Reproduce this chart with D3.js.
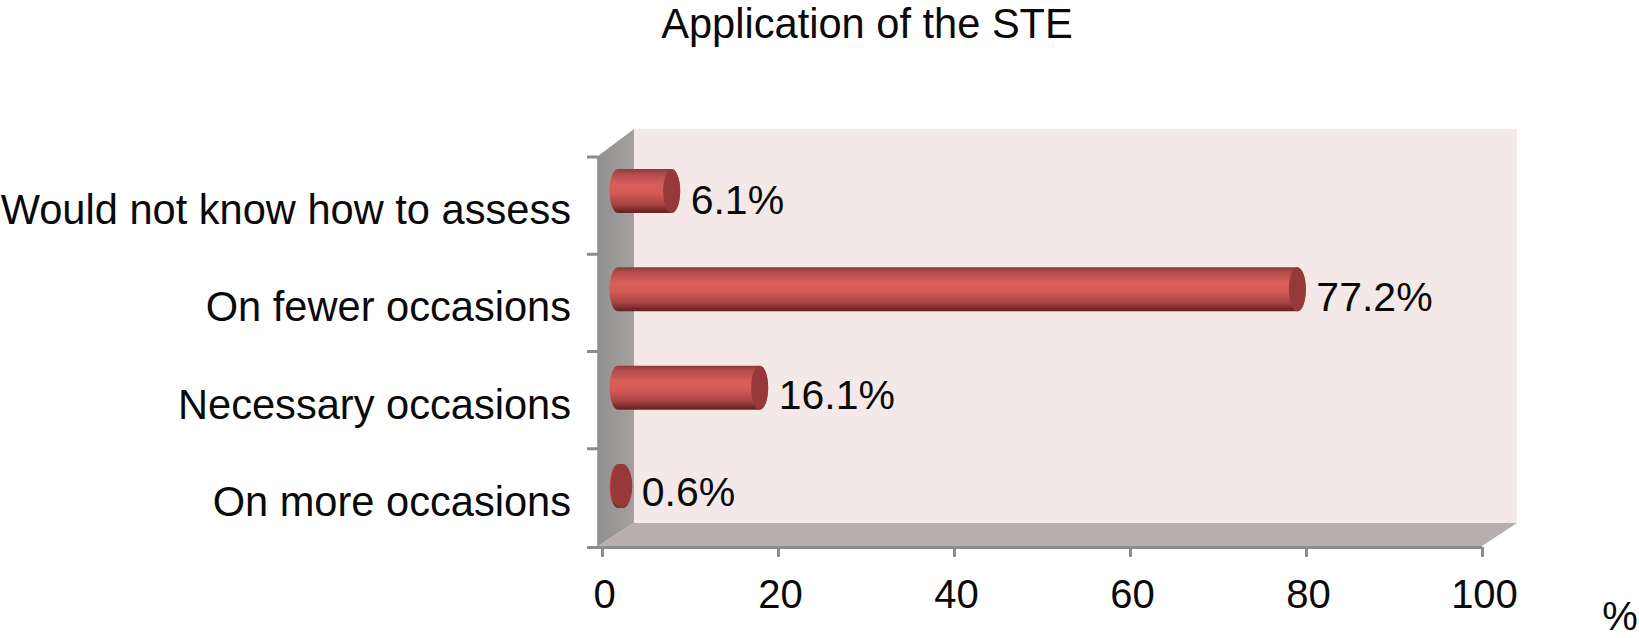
<!DOCTYPE html>
<html><head><meta charset="utf-8">
<script src="https://cdn.jsdelivr.net/npm/d3@7"></script>
<style>
html,body{margin:0;padding:0;background:#fff;overflow:hidden}
svg{display:block}
text{font-family:"Liberation Sans",Arial,sans-serif;fill:#0a0a0a}
</style></head><body>
<svg id="c" width="1639" height="638"></svg>
<script>
const titleText = "Application of the STE";
const categories = ["Would not know how to assess","On fewer occasions","Necessary occasions","On more occasions"];
const values = [6.1,77.2,16.1,0.6];
const xTicks = [0,20,40,60,80,100];
const unitLabel = "%";

const svg = d3.select("#c");
const x = d3.scaleLinear().domain([0,100]).range([602,1482]);
const yAxisBand = d3.scaleBand().domain(categories).range([157,546]);
const yBar = d3.scalePoint().domain(categories).range([191,486]);
const bandMid = c => yAxisBand(c)+yAxisBand.bandwidth()/2;
const ry = 22, rx = 8.5;

const defs = svg.append("defs");
const g = defs.append("linearGradient").attr("id","cyl").attr("x1",0).attr("y1",0).attr("x2",0).attr("y2",1);
[[0,"#8c3a3a"],[0.1,"#b04a49"],[0.35,"#d95f5a"],[0.55,"#d35a56"],[0.8,"#a84443"],[0.95,"#722626"],[1,"#6b2424"]]
  .forEach(d=>g.append("stop").attr("offset",d[0]).attr("stop-color",d[1]));
const lw = defs.append("linearGradient").attr("id","wall").attr("x1",0).attr("y1",0).attr("x2",1).attr("y2",0);
lw.append("stop").attr("offset",0).attr("stop-color","#928f8f");
lw.append("stop").attr("offset",1).attr("stop-color","#a5a1a1");

const xL = x(0)-4, yT = yAxisBand.range()[0], yB = yAxisBand.range()[1];
const xB = x(100), wallL = xL+36, wallR = xB+35, wallT = yT-28, wallB = yB-23;

// walls
svg.append("rect").attr("x",wallL).attr("y",wallT).attr("width",wallR-wallL).attr("height",wallB-wallT).attr("fill","#f4e8e8");
svg.append("path").attr("d",`M${xL},${yT-1}L${wallL},${wallT}L${wallL},${wallB}L${xL},${yB}Z`).attr("fill","url(#wall)");
svg.append("path").attr("d",`M${xL},${yB}L${wallL},${wallB}L${wallR},${wallB}L${xB},${yB}Z`).attr("fill","#b7afaf");

// axes
const axisX = d3.axisBottom(x).tickValues(xTicks).tickSize(10).tickPadding(23).tickFormat(d3.format("d"));
const ax = svg.append("g").attr("transform",`translate(0,${yB+1})`).call(axisX);
ax.select(".domain").attr("d",`M${xL-11},0.5H${xB}`).attr("stroke","#8c8c8c").attr("stroke-width",3);
ax.selectAll(".tick line").attr("stroke","#8c8c8c").attr("stroke-width",3);
ax.selectAll("text").style("font-size","40px").attr("fill","#0a0a0a").attr("dx",2);

const yTickPos = yAxisBand.domain().map(c=>yAxisBand(c));
svg.append("g").selectAll("line").data(yTickPos).join("line")
  .attr("x1",xL-11).attr("x2",xL).attr("y1",d=>d).attr("y2",d=>d)
  .attr("stroke","#8c8c8c").attr("stroke-width",3);
svg.append("line").attr("x1",xL).attr("x2",xL).attr("y1",yT-1).attr("y2",yB+1).attr("stroke","#8c8c8c").attr("stroke-width",1.5);

// category labels
svg.append("g").selectAll("text").data(categories).join("text")
  .attr("x",571).attr("y",d=>bandMid(d)+18.5).attr("text-anchor","end")
  .style("font-size","41.6px").text(d=>d);

// bars
const zero = x(0)+16;
const bars = svg.append("g").selectAll("g").data(categories.map((c,i)=>({c,v:values[i]}))).join("g");
bars.append("path").attr("d",d=>{
  const end = zero + x(d.v)-x(0), cy = yBar(d.c);
  return `M${zero},${cy-ry}L${end},${cy-ry}A${rx},${ry} 0 0 1 ${end},${cy+ry}L${zero},${cy+ry}A${rx},${ry} 0 0 1 ${zero},${cy-ry}Z`;
}).attr("fill","url(#cyl)");
bars.append("ellipse")
  .attr("cx",d=>zero + x(d.v)-x(0) - (d.v<1?2:0)).attr("cy",d=>yBar(d.c))
  .attr("rx",d=>d.v<1?11:rx).attr("ry",ry)
  .attr("fill","#97393a");
bars.append("text")
  .attr("x",d=>zero + x(d.v)-x(0)+rx+ (d.v<1?10:10.5)).attr("y",d=>bandMid(d.c)+8.5)
  .style("font-size","41px").text(d=>d.v.toFixed(1)+"%");

// title and unit
svg.append("text").attr("x",867).attr("y",38).attr("text-anchor","middle").style("font-size","41.6px").text(titleText);
svg.append("text").attr("x",1620).attr("y",630).attr("text-anchor","middle").style("font-size","40px").text(unitLabel);
</script>
</body></html>
